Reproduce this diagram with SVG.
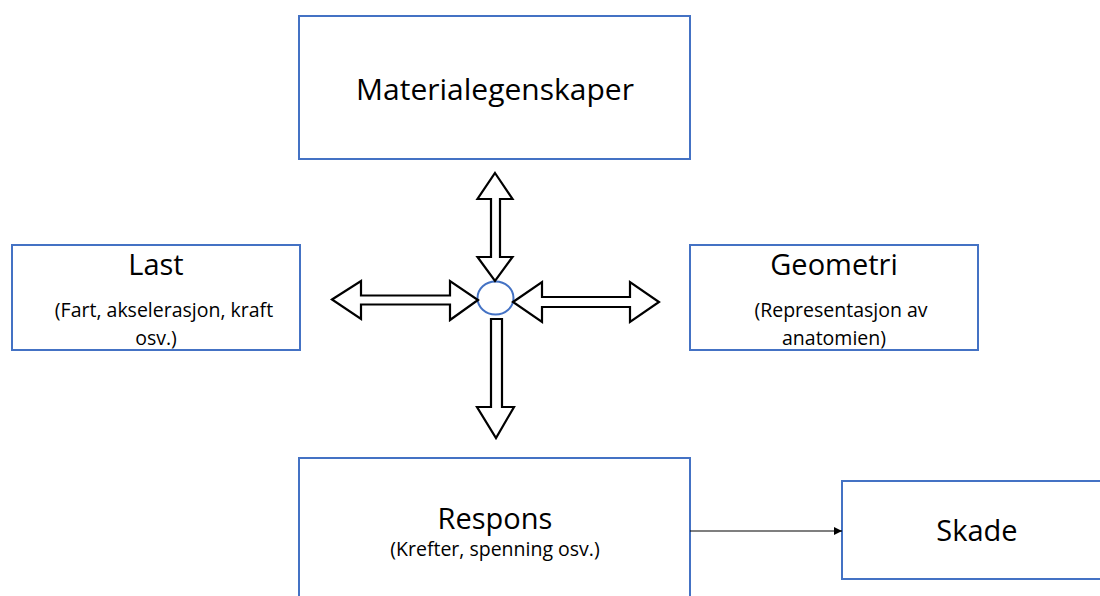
<svg xmlns="http://www.w3.org/2000/svg" width="1100" height="596" viewBox="0 0 1100 596">
<style>
.box{fill:#fff;stroke:#4472C4;stroke-width:2}
.t{font-family:"Open Sans","Liberation Sans",sans-serif;fill:#000;text-anchor:middle}
.h{font-size:29px}
.s{font-size:19.5px}
.blk{fill:#fff;stroke:#000;stroke-width:2.2;stroke-linejoin:miter}
.con{stroke:#000;stroke-width:1.2;fill:none}
</style>
<defs>
<marker id="ah" viewBox="0 0 10 10" refX="10" refY="5" markerWidth="8" markerHeight="8" markerUnits="userSpaceOnUse" orient="auto">
<path d="M0,0 L10,5 L0,10 z" fill="#000"/>
</marker>
</defs>
<rect width="1100" height="596" fill="#fff"/>
<g id="materialegenskaper">
<rect class="box" x="299" y="16" width="391" height="143"/>
<text class="t h" x="495" y="100" style="font-size:30px">Materialegenskaper</text>
</g>
<g id="last">
<rect class="box" x="12" y="245" width="288" height="105"/>
<text class="t h" x="156" y="275">Last</text>
<text class="t s" x="164" y="317">(Fart, akselerasjon, kraft</text>
<text class="t s" x="156" y="345">osv.)</text>
</g>
<g id="geometri">
<rect class="box" x="690" y="245" width="288" height="105"/>
<text class="t h" x="834" y="275">Geometri</text>
<text class="t s" x="841" y="317">(Representasjon av</text>
<text class="t s" x="834" y="345">anatomien)</text>
</g>
<g id="respons">
<rect class="box" x="299" y="458" width="391" height="143"/>
<text class="t h" x="495" y="529">Respons</text>
<text class="t s" x="495" y="556">(Krefter, spenning osv.)</text>
</g>
<g id="skade">
<rect class="box" x="842" y="481" width="270" height="98"/>
<text class="t h" x="977" y="541">Skade</text>
</g>
<g id="hub">
<ellipse cx="495.5" cy="298" rx="18" ry="16.5" fill="#fff" stroke="#4472C4" stroke-width="2"/>
</g>
<g id="connectors">
<polygon class="blk" points="495,173 512.5,199 500,199 500,257 512.5,257 495,281 477.5,257 491,257 491,199 477.5,199"/>
<polygon class="blk" points="332,299.5 361,281 361,295.5 450,295.5 450,281 478,300 450,320 450,304.5 361,304.5 361,319"/>
<polygon class="blk" points="513,302 542,282 542,297 630,297 630,282 659,302 630,322 630,307 542,307 542,322"/>
<polygon class="blk" points="491,319 502,319 502,407 514,407 496,438 477,407 491,407"/>
<line class="con" x1="690" y1="531" x2="842" y2="531" marker-end="url(#ah)"/>
</g>
</svg>
